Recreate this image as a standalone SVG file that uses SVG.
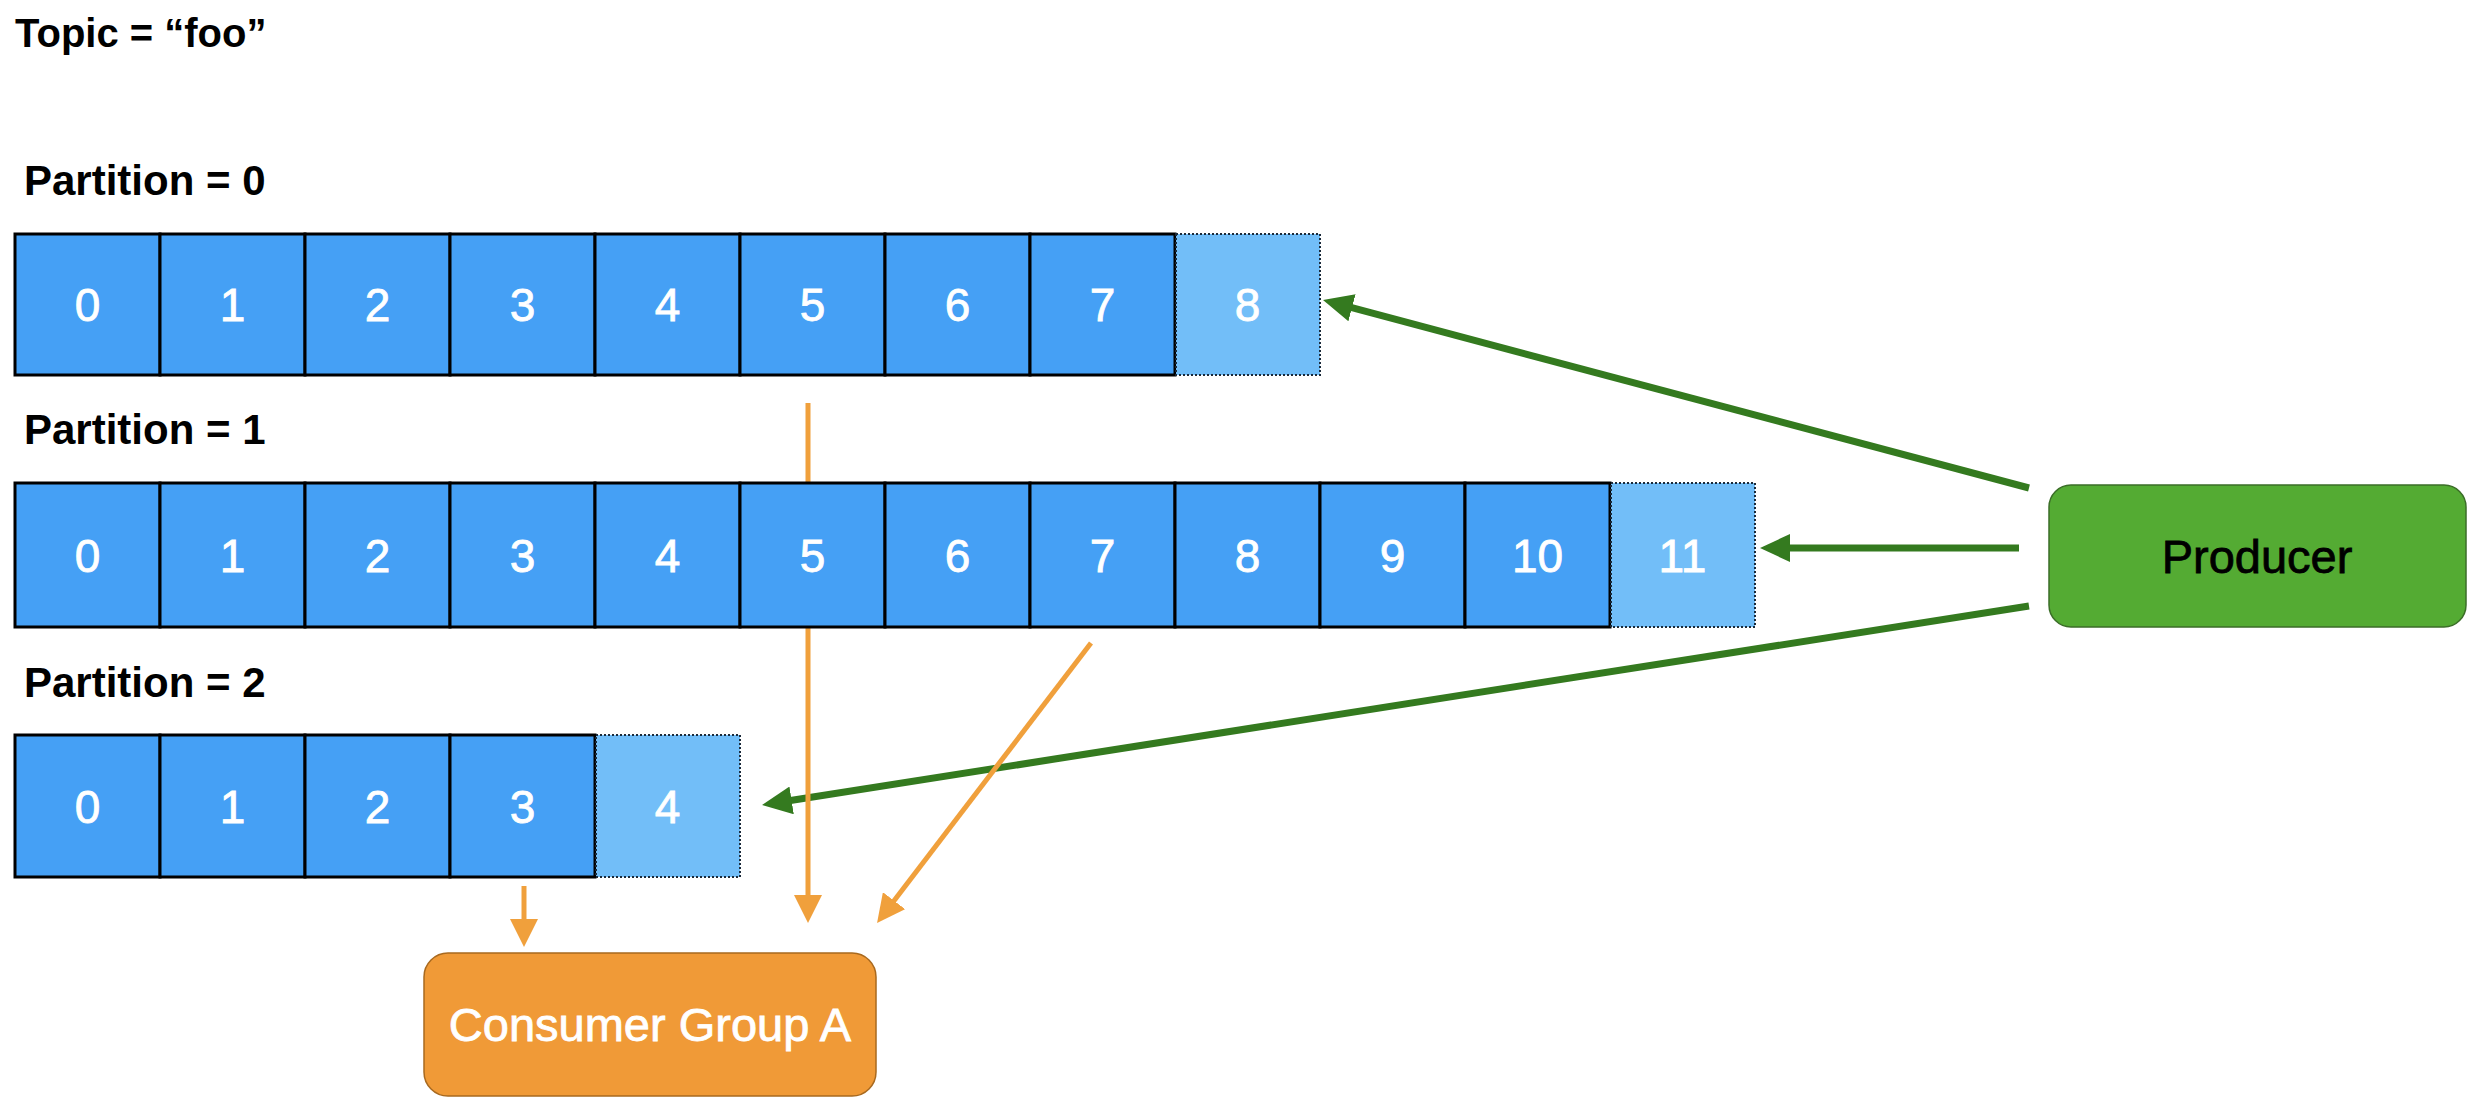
<svg xmlns="http://www.w3.org/2000/svg" width="2482" height="1110" viewBox="0 0 2482 1110">
<defs>
<style>
.title{font-family:"Liberation Sans",Arial,sans-serif;font-weight:bold;font-size:40px;fill:#000}
.plabel{font-family:"Liberation Sans",Arial,sans-serif;font-weight:bold;font-size:42px;fill:#000}
.cell{fill:#45a0f5;stroke:#000;stroke-width:3}
.cellnew{fill:#72bef8;stroke:#1a2a3a;stroke-width:2;stroke-dasharray:2 2}
.num{font-family:"Liberation Sans",Arial,sans-serif;font-size:46px;fill:#fff;stroke:#fff;stroke-width:0.8;text-anchor:middle}
.boxtext{font-family:"Liberation Sans",Arial,sans-serif;font-size:47px;stroke-width:0.8;text-anchor:middle}
.green{stroke:#347a1f;stroke-width:7;fill:none}
.orange{stroke:#f0a03c;stroke-width:5;fill:none}
</style>
<marker id="gh" viewBox="0 0 30 28" refX="6" refY="14" markerWidth="30" markerHeight="28" markerUnits="userSpaceOnUse" orient="auto">
<path d="M0,0 L30,14 L0,28 z" fill="#347a1f"/>
</marker>
<marker id="oh" viewBox="0 0 28 28" refX="6" refY="14" markerWidth="28" markerHeight="28" markerUnits="userSpaceOnUse" orient="auto">
<path d="M0,0 L28,14 L0,28 z" fill="#f0a03c"/>
</marker>
</defs>
<rect width="2482" height="1110" fill="#fff"/>
<text id="topic" class="title" x="15" y="47">Topic = “foo”</text>

<g id="connectors">
<line class="green" x1="2029" y1="488" x2="1346.2" y2="306.2" marker-end="url(#gh)"/>
<line class="green" x1="2019" y1="548" x2="1784" y2="548" marker-end="url(#gh)"/>
<line class="green" x1="2029" y1="606" x2="785.7" y2="801.3" marker-end="url(#gh)"/>
<line class="orange" x1="808" y1="403" x2="808" y2="901" marker-end="url(#oh)"/>
<line class="orange" x1="1091" y1="643" x2="890.4" y2="905.5" marker-end="url(#oh)"/>
<line class="orange" x1="524" y1="886" x2="524" y2="925" marker-end="url(#oh)"/>
</g>

<g id="partition0">
<text class="plabel" x="24" y="195">Partition = 0</text>
<rect class="cell" x="15" y="234" width="145" height="141"/><text class="num" x="87.5" y="321">0</text>
<rect class="cell" x="160" y="234" width="145" height="141"/><text class="num" x="232.5" y="321">1</text>
<rect class="cell" x="305" y="234" width="145" height="141"/><text class="num" x="377.5" y="321">2</text>
<rect class="cell" x="450" y="234" width="145" height="141"/><text class="num" x="522.5" y="321">3</text>
<rect class="cell" x="595" y="234" width="145" height="141"/><text class="num" x="667.5" y="321">4</text>
<rect class="cell" x="740" y="234" width="145" height="141"/><text class="num" x="812.5" y="321">5</text>
<rect class="cell" x="885" y="234" width="145" height="141"/><text class="num" x="957.5" y="321">6</text>
<rect class="cell" x="1030" y="234" width="145" height="141"/><text class="num" x="1102.5" y="321">7</text>
<rect class="cellnew" x="1176" y="234" width="144" height="141"/><text class="num" x="1247.5" y="321">8</text>
</g>

<g id="partition1">
<text class="plabel" x="24" y="444">Partition = 1</text>
<rect class="cell" x="15" y="483" width="145" height="144"/><text class="num" x="87.5" y="572">0</text>
<rect class="cell" x="160" y="483" width="145" height="144"/><text class="num" x="232.5" y="572">1</text>
<rect class="cell" x="305" y="483" width="145" height="144"/><text class="num" x="377.5" y="572">2</text>
<rect class="cell" x="450" y="483" width="145" height="144"/><text class="num" x="522.5" y="572">3</text>
<rect class="cell" x="595" y="483" width="145" height="144"/><text class="num" x="667.5" y="572">4</text>
<rect class="cell" x="740" y="483" width="145" height="144"/><text class="num" x="812.5" y="572">5</text>
<rect class="cell" x="885" y="483" width="145" height="144"/><text class="num" x="957.5" y="572">6</text>
<rect class="cell" x="1030" y="483" width="145" height="144"/><text class="num" x="1102.5" y="572">7</text>
<rect class="cell" x="1175" y="483" width="145" height="144"/><text class="num" x="1247.5" y="572">8</text>
<rect class="cell" x="1320" y="483" width="145" height="144"/><text class="num" x="1392.5" y="572">9</text>
<rect class="cell" x="1465" y="483" width="145" height="144"/><text class="num" x="1537.5" y="572">10</text>
<rect class="cellnew" x="1611" y="483" width="144" height="144"/><text class="num" x="1682.5" y="572">11</text>
</g>

<g id="partition2">
<text class="plabel" x="24" y="697">Partition = 2</text>
<rect class="cell" x="15" y="735" width="145" height="142"/><text class="num" x="87.5" y="823">0</text>
<rect class="cell" x="160" y="735" width="145" height="142"/><text class="num" x="232.5" y="823">1</text>
<rect class="cell" x="305" y="735" width="145" height="142"/><text class="num" x="377.5" y="823">2</text>
<rect class="cell" x="450" y="735" width="145" height="142"/><text class="num" x="522.5" y="823">3</text>
<rect class="cellnew" x="596" y="735" width="144" height="142"/><text class="num" x="667.5" y="823">4</text>
</g>

<g id="producer">
<rect x="2049" y="485" width="417" height="142" rx="22" fill="#54ab33" stroke="#3b6e28" stroke-width="1.5"/>
<text class="boxtext" x="2257" y="573" fill="#000" stroke="#000">Producer</text>
</g>

<g id="consumer-group-a">
<rect x="424" y="953" width="452" height="143" rx="24" fill="#f09a37" stroke="#a8691f" stroke-width="1.5"/>
<text class="boxtext" x="650" y="1041" fill="#fff" stroke="#fff">Consumer Group A</text>
</g>
</svg>
